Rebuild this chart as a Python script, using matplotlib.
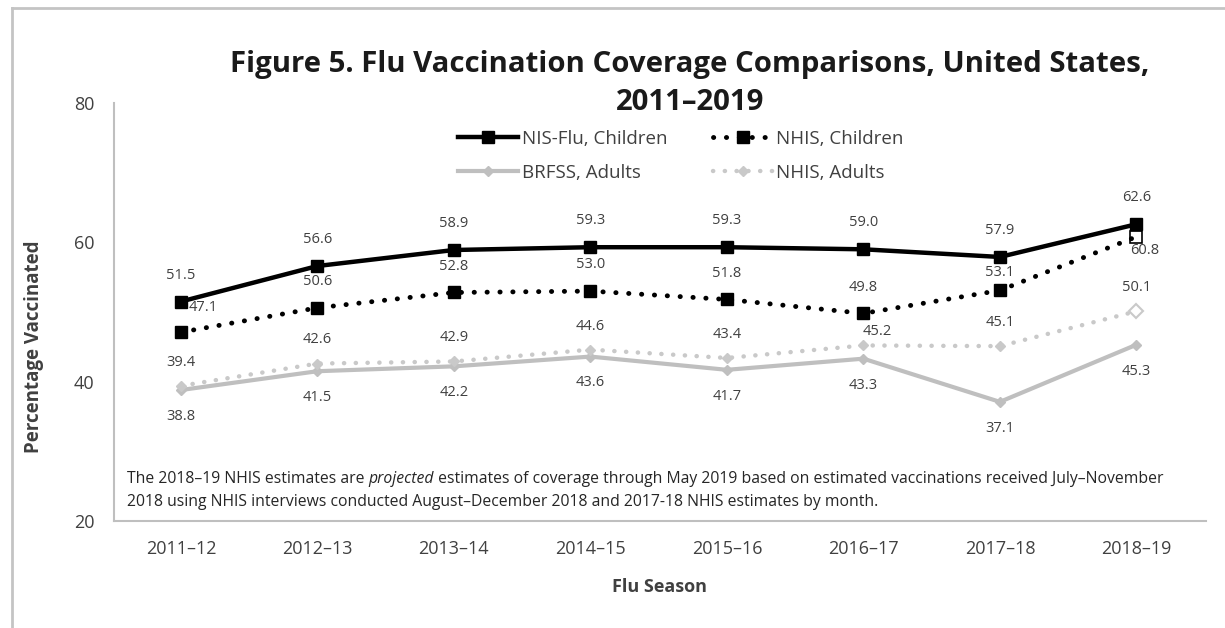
import matplotlib
matplotlib.use('Agg')
import matplotlib.pyplot as plt
from matplotlib.lines import Line2D
import numpy as np

plt.rcParams['font.family'] = ['Open Sans', 'DejaVu Sans']

seasons = ['2011–12', '2012–13', '2013–14', '2014–15', '2015–16', '2016–17', '2017–18', '2018–19']
nis_flu_children = [51.5, 56.6, 58.9, 59.3, 59.3, 59.0, 57.9, 62.6]
nhis_children = [47.1, 50.6, 52.8, 53.0, 51.8, 49.8, 53.1, 60.8]
brfss_adults = [38.8, 41.5, 42.2, 43.6, 41.7, 43.3, 37.1, 45.3]
nhis_adults = [39.4, 42.6, 42.9, 44.6, 43.4, 45.2, 45.1, 50.1]

txt_col = '#404040'
gray_solid = '#bfbfbf'
gray_dot = '#c9c9c9'

fig = plt.figure(figsize=(12.25, 6.28), dpi=100)
ax = fig.add_axes([114 / 1225, 1 - 521 / 628, (1206 - 114) / 1225, 418 / 628])

x = np.arange(len(seasons))
dots = (0, (0.05, 2.6))

# adults first so children lines sit on top
ax.plot(x, brfss_adults, color=gray_solid, lw=3, marker='D', ms=5,
        mfc=gray_solid, mec=gray_solid, zorder=2)
ax.plot(x, nhis_adults, color=gray_dot, lw=3.2, ls=dots, dash_capstyle='round',
        marker='D', ms=5, mfc=gray_dot, mec=gray_dot, markevery=list(range(len(x) - 1)), zorder=2)
ax.plot(x[-1:], nhis_adults[-1:], ls='none', marker='D', ms=7, mfc='white', mec=gray_dot, mew=1.5, zorder=3)

ax.plot(x, nis_flu_children, color='black', lw=3.2, marker='s', ms=9, zorder=4)
ax.plot(x, nhis_children, color='black', lw=3.5, ls=dots, dash_capstyle='round',
        marker='s', ms=9, markevery=list(range(len(x) - 1)), zorder=4)
ax.plot(x[-1:], nhis_children[-1:], ls='none', marker='s', ms=9, mfc='white', mec='black', mew=1.2, zorder=3)

# data labels
lab_fs = 10.5
for i in x:
    ax.annotate(f'{nis_flu_children[i]:.1f}', (i, nis_flu_children[i]), xytext=(0, 19),
                textcoords='offset points', ha='center', va='center', fontsize=lab_fs, color=txt_col)
    dx, dy = 0, 19
    if i == 0:
        dx, dy = 16, 18
    elif i == len(x) - 1:
        dx, dy = 6, -10
    elif i == 6:
        dy = 13
    ax.annotate(f'{nhis_children[i]:.1f}', (i, nhis_children[i]), xytext=(dx, dy),
                textcoords='offset points', ha='center', va='center', fontsize=lab_fs, color=txt_col)
    dx, dy = 0, 17
    if i == 5:
        dx, dy = 10, 10
    ax.annotate(f'{nhis_adults[i]:.1f}', (i, nhis_adults[i]), xytext=(dx, dy),
                textcoords='offset points', ha='center', va='center', fontsize=lab_fs, color=txt_col)
    ax.annotate(f'{brfss_adults[i]:.1f}', (i, brfss_adults[i]), xytext=(0, -19),
                textcoords='offset points', ha='center', va='center', fontsize=lab_fs, color=txt_col)

ax.set_xlim(-0.49, 7.51)
ax.set_ylim(20, 80)
ax.set_yticks([20, 40, 60, 80])
ax.set_xticks(x)
ax.set_xticklabels(seasons)
ax.tick_params(axis='both', length=0, labelsize=13, labelcolor=txt_col)
ax.tick_params(axis='y', pad=14)
ax.tick_params(axis='x', pad=14)
for s in ['top', 'right']:
    ax.spines[s].set_visible(False)
for s in ['left', 'bottom']:
    ax.spines[s].set_color('#bfbfbf')
    ax.spines[s].set_linewidth(1.5)

ax.set_xlabel('Flu Season', fontsize=13, fontweight='bold', color=txt_col, labelpad=14)
ax.set_ylabel('Percentage Vaccinated', fontsize=13.5, fontweight='bold', color=txt_col)
ax.yaxis.set_label_coords((44 - 114) / 1092, 0.416)

# footnote with italic word
fs = 11.3
t1 = ax.text(0.012, 0.1, 'The 2018–19 NHIS estimates are ', transform=ax.transAxes,
             fontsize=fs, color='#262626', va='center')
t2 = ax.annotate('projected', xy=(1, 0), xycoords=t1, va='bottom', fontsize=fs,
                 color='#262626', style='italic')
ax.annotate(' estimates of coverage through May 2019 based on estimated vaccinations received July–November',
            xy=(1, 0), xycoords=t2, va='bottom', fontsize=fs, color='#262626')
ax.text(0.012, 0.046, '2018 using NHIS interviews conducted August–December 2018 and 2017-18 NHIS estimates by month.',
        transform=ax.transAxes, fontsize=fs, color='#262626', va='center')

fig.text(0.563, 0.92, 'Figure 5. Flu Vaccination Coverage Comparisons, United States,\n2011–2019',
         ha='center', va='top', fontsize=21.2, fontweight='bold', color='#1a1a1a', linespacing=1.4)

handles = [
    Line2D([], [], color='black', lw=3.2, marker='s', ms=9),
    Line2D([], [], color=gray_solid, lw=3, marker='D', ms=5),
    Line2D([], [], color='black', lw=3.5, ls=dots, dash_capstyle='round', marker='s', ms=9),
    Line2D([], [], color=gray_dot, lw=3.2, ls=dots, dash_capstyle='round', marker='D', ms=5),
]
labels = ['NIS-Flu, Children', 'BRFSS, Adults', 'NHIS, Children', 'NHIS, Adults']
fig.legend(handles, labels, ncol=2, loc='center', bbox_to_anchor=(0.556, 0.752),
           frameon=False, fontsize=13.5, labelcolor=txt_col, handlelength=3.2,
           columnspacing=2.4, handletextpad=0.2, labelspacing=0.85)

# outer border
fig.add_artist(Line2D([12 / 1225, 12 / 1225], [0, 1 - 8 / 628], transform=fig.transFigure,
                      color='#c4c4c4', lw=2))
fig.add_artist(Line2D([12 / 1225, 1], [1 - 8 / 628, 1 - 8 / 628], transform=fig.transFigure,
                      color='#c4c4c4', lw=2))

fig.savefig('out.png', dpi=100)
